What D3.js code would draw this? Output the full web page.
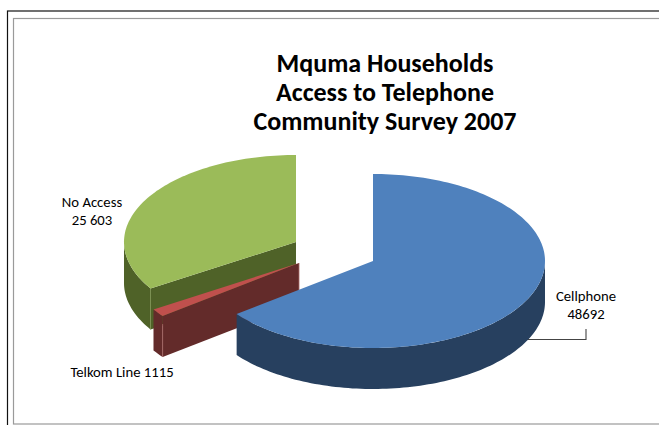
<!DOCTYPE html>
<html>
<head>
<meta charset="utf-8">
<script src="https://cdn.jsdelivr.net/npm/d3@7"></script>
<style>
html,body{margin:0;padding:0;background:#fff;overflow:hidden}
svg{display:block}
text{font-family:"Carlito","Open Sans","Noto Sans",sans-serif}
</style>
</head>
<body>
<svg id="chart" width="659" height="425"></svg>
<script>
const categories = ["Cellphone", "Telkom Line", "No Access"];
const households = [48692, 1115, 25603];
const valueLabels = ["48692", "1115", "25 603"];
const titleLines = ["Mquma Households", "Access to Telephone", "Community Survey 2007"];
const topColours = ["#4F81BD", "#C0504D", "#9BBB59"];
const sideColours = ["#27405F", "#632B2A", "#4F6228"];
const edgeColours = ["#7FA3D0", "#A86A68", "#7E9350"];

const svg = d3.select("#chart");

// Page and chart frames, both running off the right of the page
svg.append("rect").attr("x", 7.5).attr("y", 11).attr("width", 700).attr("height", 500)
  .attr("fill", "none").attr("stroke", "#111").attr("stroke-width", 1.2);
svg.append("rect").attr("x", 13.5).attr("y", 18.5).attr("width", 700).attr("height", 405.5)
  .attr("fill", "#fff").attr("stroke", "#9a9a9a").attr("stroke-width", 1.2);

// Title
svg.append("g").selectAll("text").data(titleLines).join("text")
  .attr("x", 385).attr("y", (d, i) => 72 + i * 29)
  .attr("text-anchor", "middle").attr("font-size", 26).attr("font-weight", 700)
  .attr("fill", "#000").text(d => d);

// Pie layout: clockwise from twelve o'clock in data order
const arcs = d3.pie().sort(null).value(d => d)(households);

const rx = 172, ry = 87, depth = 41;
const px = d3.scaleLinear().domain([-1, 1]).range([-rx, rx]);
const py = d3.scaleLinear().domain([-1, 1]).range([-ry, ry]);
const pointAt = (a, c, dy = 0) => [c[0] + px(Math.sin(a)), c[1] - py(Math.cos(a)) + dy];

// Apex of each slice once pulled out of the pie
const apexes = [[373, 261], [299, 263], [296, 242]];

function rimPoints(a0, a1, c, dy) {
  const n = Math.max(2, Math.ceil(Math.abs(a1 - a0) * 40));
  return d3.range(n + 1).map(i => pointAt(a0 + (a1 - a0) * i / n, c, dy));
}
const line = d3.line();
const closed = pts => line(pts) + "Z";

// Outer wall between two angles, kept to the part of the rim facing the viewer
function outerWall(a0, a1, c) {
  const s = Math.max(a0, Math.PI / 2), e = Math.min(a1, 3 * Math.PI / 2);
  if (e <= s) return null;
  return closed(rimPoints(s, e, c, 0).concat(rimPoints(e, s, c, depth)));
}

// Slices are painted back to front
const order = [2, 1, 0];
const layer = svg.append("g");
order.forEach(i => {
  const s = arcs[i], c = apexes[i];
  const g = layer.append("g").attr("class", "slice").attr("data-name", categories[i]);
  const side = sideColours[i];

  // Cut face running from the apex to the rim at the slice's start angle
  if (i !== 0) {
    const rim = pointAt(s.startAngle, c);
    g.append("path")
      .attr("d", closed([c, rim, [rim[0], rim[1] + depth], [c[0], c[1] + depth]]))
      .attr("fill", side);
  }

  const wall = outerWall(s.startAngle, s.endAngle, c);
  if (wall) g.append("path").attr("d", wall).attr("fill", side);

  // Light seam where the cut face meets the outer wall
  if (i !== 0) {
    const rim = pointAt(s.startAngle, c);
    g.append("line")
      .attr("x1", rim[0]).attr("y1", rim[1] + (i === 1 ? 8 : 0))
      .attr("x2", rim[0]).attr("y2", rim[1] + depth)
      .attr("stroke", edgeColours[i]).attr("stroke-width", 0.8);
  }

  // Thin highlight down the inner end of the red wedge
  if (i === 1) {
    g.append("line")
      .attr("x1", c[0]).attr("y1", c[1])
      .attr("x2", c[0]).attr("y2", c[1] + depth)
      .attr("stroke", edgeColours[i]).attr("stroke-width", 0.8);
  }

  g.append("path")
    .attr("d", closed([c].concat(rimPoints(s.startAngle, s.endAngle, c, 0))))
    .attr("fill", topColours[i]);
});

// Data labels
const labelFont = 14.7, labelLeading = 18;
function label(lines, x, y) {
  svg.append("g").selectAll("text").data(lines).join("text")
    .attr("x", x).attr("y", (d, i) => y + i * labelLeading)
    .attr("text-anchor", "middle").attr("font-size", labelFont)
    .attr("fill", "#000").text(d => d);
}
label([categories[0], valueLabels[0]], 586, 301);
label([categories[2], valueLabels[2]], 92, 207);
label([categories[1] + " " + valueLabels[1]], 122, 377);

// Leader from the Cellphone label to its slice
svg.append("path")
  .attr("d", d3.line()([[528, 339.5], [586, 339.5], [586, 329]]))
  .attr("fill", "none").attr("stroke", "#444").attr("stroke-width", 1.1);
</script>
</body>
</html>
